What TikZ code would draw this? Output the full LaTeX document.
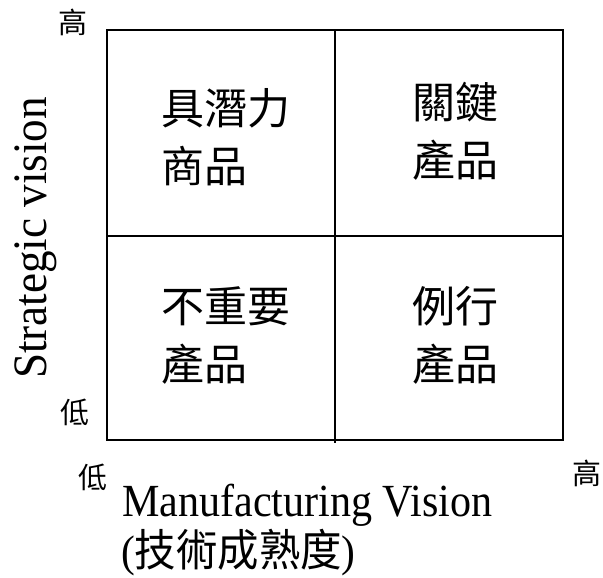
\documentclass[tikz,border=0pt]{standalone}
\usepackage{fontspec}
\setmainfont{Liberation Serif}
\newfontfamily\cjk{Noto Sans CJK TC}
\tikzset{
  grid/.style={line width=2pt, draw=black},
  quad/.style={font=\cjk\fontsize{43}{58}\selectfont, align=left, inner sep=0pt, anchor=west},
  lvl/.style={font=\cjk\fontsize{29}{32}\selectfont, inner sep=0pt},
  axis/.style={font=\fontsize{46}{50}\selectfont, inner sep=0pt},
}
\begin{document}
\begin{tikzpicture}[x=1pt,y=-1pt]
\useasboundingbox (0,0) rectangle (603,578);
\draw[grid] (107,30) rectangle (563,440);
\draw[grid] (335,30) -- (335,443);
\draw[grid] (107,236) -- (563,236);
\node[quad] (q1) at (161,137) {具潛力\\商品};
\node[quad] (q2) at (412,131) {關鍵\\產品};
\node[quad] (q3) at (161,336) {不重要\\產品};
\node[quad] (q4) at (412,335) {例行\\產品};
\node[lvl] (hy) at (73,22) {高};
\node[lvl] (ly) at (74.5,412) {低};
\node[lvl] (lx) at (93,477) {低};
\node[lvl] (hx) at (587,473) {高};
\node[axis, anchor=base west, xscale=0.915] (mx) at (122,516) {Manufacturing Vision};
\node[axis, anchor=west, xscale=0.9, yscale=0.96] (mc) at (121,553) {({\cjk 技術成熟度})};
\node[axis, anchor=base, rotate=90, xscale=0.94, font=\fontsize{48}{50}\selectfont] (sy) at (46,238) {Strategic vision};
\end{tikzpicture}
\end{document}
